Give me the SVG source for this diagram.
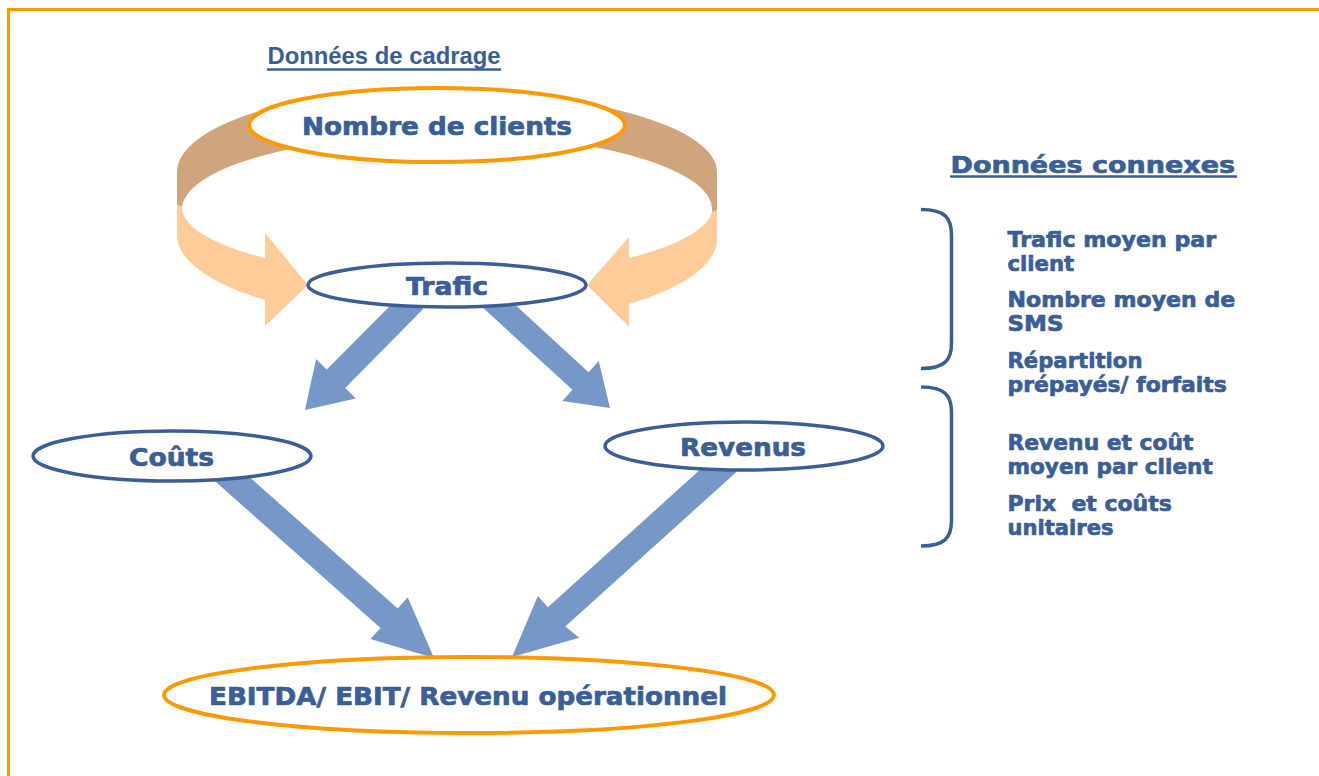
<svg xmlns="http://www.w3.org/2000/svg" width="1319" height="776" viewBox="0 0 1319 776">
<style>
.t{font-family:"DejaVu Sans","Liberation Sans",sans-serif;font-weight:bold;fill:#3A5E98}
.h{stroke:#3A5E98;stroke-width:0.7;stroke-linejoin:round}
.n{font-size:24px}
.s{font-size:21.8px}
.ob{fill:#fff;stroke:#FF9900;stroke-width:4}
.bb{fill:#fff;stroke:#3A5E98;stroke-width:3.5}
.ar{fill:#7598C9}
.br{fill:none;stroke:#3A5E98;stroke-width:3.5}
.ul{stroke:#3A5E98;stroke-width:2.3}
</style>
<rect width="1319" height="776" fill="#fff"/>
<rect x="8.5" y="9.5" width="1330" height="790" fill="none" stroke="#FF9900" stroke-width="3"/>

<g id="titre-cadrage">
<text x="267.5" y="63.5" font-family="'Liberation Sans',Arial,sans-serif" font-weight="bold" font-size="23.4" fill="#3A5E98" textLength="233" lengthAdjust="spacingAndGlyphs">Données de cadrage</text>
<line class="ul" x1="267" y1="69.5" x2="501" y2="69.5"/>
</g>

<g id="connectors">
<path d="M177,172 A270,85 0 0 1 447,87 L447,92 A270,80 0 0 1 717,172 L717,228 L712,212 A265,75 0 0 0 182,207 L177,205 Z" fill="#D0A57B"/>
<path d="M177,205 L177,235 A270,88 0 0 0 265,300 L265,326 L308,285 L265,233 L265,258 A265,70 0 0 1 182,207 Z" fill="#FFCC99"/>
<path d="M717,210 L717,240 A270,88 0 0 1 629,304 L629,327 L587,285 L629,237 L629,258 A265,70 0 0 0 712,212 Z" fill="#FFCC99"/>
<polygon class="ar" points="404.8,290.9 423.2,309.1 345.2,387.9 355.8,398.5 305,410 316.1,359.1 326.7,369.6"/>
<polygon class="ar" points="498.1,289.2 481.9,306.8 572.4,389.8 562.3,400.9 610,408 598.7,361.1 588.6,372.2"/>
<polygon class="ar" points="230.6,460.3 213.4,479.7 380.5,627.9 370.5,639.1 434,658 407.7,597.3 397.7,608.5"/>
<polygon class="ar" points="736.7,471.7 719.3,452.3 547.9,607.2 537.9,596.1 512,657 579.3,637.7 565.3,626.6"/>
</g>

<g id="nombre-clients">
<ellipse class="ob" cx="437" cy="125" rx="188" ry="37"/>
<text class="t h n" x="437" y="135" text-anchor="middle" textLength="270" lengthAdjust="spacingAndGlyphs">Nombre de clients</text>
</g>

<g id="trafic">
<ellipse class="bb" cx="447" cy="285" rx="139" ry="22"/>
<text class="t h n" x="447" y="295" text-anchor="middle" textLength="82" lengthAdjust="spacingAndGlyphs">Trafic</text>
</g>

<g id="couts">
<ellipse class="bb" cx="172" cy="456" rx="139" ry="25"/>
<text class="t h n" x="171.5" y="465.5" text-anchor="middle" textLength="85" lengthAdjust="spacingAndGlyphs">Coûts</text>
</g>

<g id="revenus">
<ellipse class="bb" cx="744" cy="446" rx="139" ry="24"/>
<text class="t h n" x="743" y="456" text-anchor="middle" textLength="126" lengthAdjust="spacingAndGlyphs">Revenus</text>
</g>

<g id="ebitda">
<ellipse class="ob" cx="469" cy="695" rx="305" ry="38"/>
<text class="t h n" x="468" y="705" text-anchor="middle" textLength="518" lengthAdjust="spacingAndGlyphs">EBITDA/ EBIT/ Revenu opérationnel</text>
</g>

<g id="donnees-connexes">
<text class="t h" x="950.5" y="173.3" font-size="23.5" textLength="284.5" lengthAdjust="spacingAndGlyphs">Données connexes</text>
<line class="ul" x1="950" y1="176.5" x2="1237" y2="176.5"/>
<path class="br" d="M921,209.5 C945,209.5 951.5,218 951.5,235 L951.5,343 C951.5,360 945,368.5 921,368.5"/>
<path class="br" d="M921,387 C945,387 951.5,395.5 951.5,412.5 L951.5,520.5 C951.5,537.5 945,546 921,546"/>
<text class="t h s" x="1007.5" y="247.3" textLength="208.7" lengthAdjust="spacingAndGlyphs">Trafic moyen par</text>
<text class="t h s" x="1007.5" y="270.5" textLength="66.7" lengthAdjust="spacingAndGlyphs">client</text>
<text class="t h s" x="1007.5" y="307.3" textLength="227.7" lengthAdjust="spacingAndGlyphs">Nombre moyen de</text>
<text class="t h s" x="1007.5" y="330.7" textLength="56" lengthAdjust="spacingAndGlyphs">SMS</text>
<text class="t h s" x="1007.5" y="368" textLength="135" lengthAdjust="spacingAndGlyphs">Répartition</text>
<text class="t h s" x="1007.5" y="391.7" textLength="219.3" lengthAdjust="spacingAndGlyphs">prépayés/ forfaits</text>
<text class="t h s" x="1007.5" y="450" textLength="186" lengthAdjust="spacingAndGlyphs">Revenu et coût</text>
<text class="t h s" x="1007.5" y="474.3" textLength="205.3" lengthAdjust="spacingAndGlyphs">moyen par client</text>
<text class="t h s" x="1007.5" y="510.7" textLength="164.3" lengthAdjust="spacingAndGlyphs" xml:space="preserve">Prix  et coûts</text>
<text class="t h s" x="1007.5" y="535" textLength="106" lengthAdjust="spacingAndGlyphs">unitaires</text>
</g>
</svg>
